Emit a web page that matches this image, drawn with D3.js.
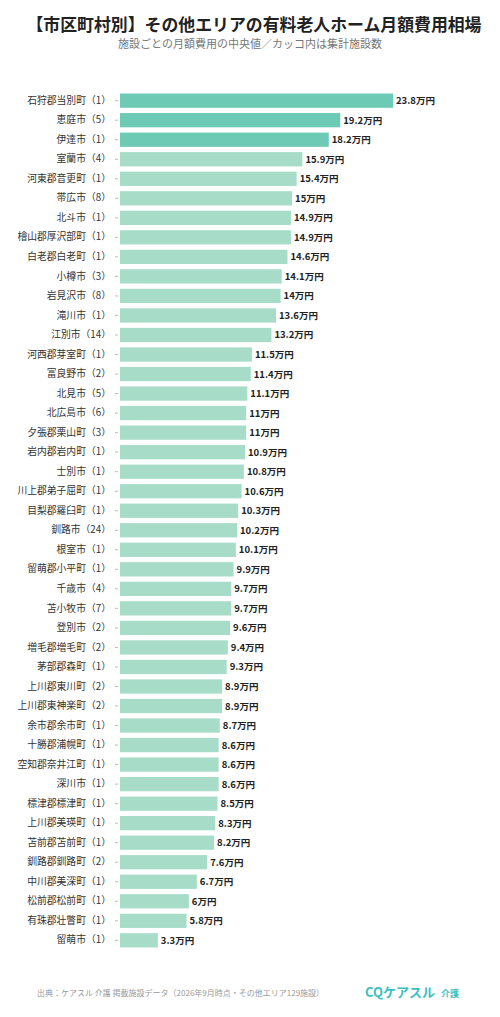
<!DOCTYPE html>
<html><head><meta charset="utf-8">
<script src="https://cdn.jsdelivr.net/npm/d3@7"></script>
<style>body{margin:0;background:#fff;font-family:"Noto Sans CJK JP","Noto Sans",sans-serif}</style>
</head><body>
<svg id="chart" width="500" height="1017"></svg>
<script>
const areas = ["石狩郡当別町","恵庭市","伊達市","室蘭市","河東郡音更町","帯広市","北斗市","檜山郡厚沢部町","白老郡白老町","小樽市","岩見沢市","滝川市","江別市","河西郡芽室町","富良野市","北見市","北広島市","夕張郡栗山町","岩内郡岩内町","士別市","川上郡弟子屈町","目梨郡羅臼町","釧路市","根室市","留萌郡小平町","千歳市","苫小牧市","登別市","増毛郡増毛町","茅部郡森町","上川郡東川町","上川郡東神楽町","余市郡余市町","十勝郡浦幌町","空知郡奈井江町","深川市","標津郡標津町","上川郡美瑛町","苫前郡苫前町","釧路郡釧路町","中川郡美深町","松前郡松前町","有珠郡壮瞥町","留萌市"];
const counts = [1,5,1,4,1,8,1,1,1,3,8,1,14,1,2,5,6,3,1,1,1,1,24,1,1,4,7,2,2,1,2,2,1,1,1,1,1,1,1,2,1,1,1,1];
const costs = [23.8,19.2,18.2,15.9,15.4,15,14.9,14.9,14.6,14.1,14,13.6,13.2,11.5,11.4,11.1,11,11,10.9,10.8,10.6,10.3,10.2,10.1,9.9,9.7,9.7,9.6,9.4,9.3,8.9,8.9,8.7,8.6,8.6,8.6,8.5,8.3,8.2,7.6,6.7,6,5.8,3.3];

const svg = d3.select("#chart");
const labels = areas.map((a, i) => `${a}（${counts[i]}）`);

svg.append("text").attr("x", 254).attr("y", 31).attr("text-anchor", "middle")
  .attr("font-size", 17).attr("font-weight", 700).attr("fill", "#222")
  .attr("textLength", 455).attr("lengthAdjust", "spacingAndGlyphs")
  .text("【市区町村別】その他エリアの有料老人ホーム月額費用相場");
svg.append("text").attr("x", 250).attr("y", 48).attr("text-anchor", "middle")
  .attr("font-size", 11).attr("fill", "#777")
  .text("施設ごとの月額費用の中央値／カッコ内は集計施設数");

const x = d3.scaleLinear().domain([0, 23.8]).range([120, 393]);
const y = d3.scaleBand().domain(labels).range([91, 950]).paddingInner(0.27).paddingOuter(0.13);

const yAxis = svg.append("g").attr("transform", "translate(118,0)")
  .call(d3.axisLeft(y).tickSize(3).tickPadding(4));
yAxis.select(".domain").remove();
yAxis.selectAll("line").attr("stroke", "#bbb");
yAxis.selectAll("text").attr("font-size", 9.8).attr("fill", "#333")
  .attr("font-family", "'Noto Sans CJK JP',sans-serif");

svg.append("g").selectAll("rect").data(costs).join("rect")
  .attr("x", x(0)).attr("y", (d, i) => y(labels[i]))
  .attr("width", d => x(d) - x(0)).attr("height", y.bandwidth())
  .attr("fill", (d, i) => i < 3 ? "#6dcab4" : "#a6dcc8");

svg.append("g").selectAll("text").data(costs).join("text")
  .attr("x", d => x(d) + 3).attr("y", (d, i) => y(labels[i]) + y.bandwidth() / 2 + 3.5)
  .attr("font-size", 9.5).attr("font-weight", 700).attr("fill", "#222")
  .text(d => `${d}万円`);

svg.append("text").attr("x", 37).attr("y", 996).attr("font-size", 8).attr("fill", "#999")
  .text("出典：ケアスル 介護 掲載施設データ（2026年9月時点・その他エリア129施設）");
svg.append("text").attr("x", 365).attr("y", 997).attr("font-size", 13).attr("font-weight", 700).attr("fill", "#3cc0c0")
  .text("CQケアスル");
svg.append("text").attr("x", 441).attr("y", 997).attr("font-size", 9).attr("font-weight", 700).attr("fill", "#3cc0c0")
  .text("介護");
</script>
</body></html>
